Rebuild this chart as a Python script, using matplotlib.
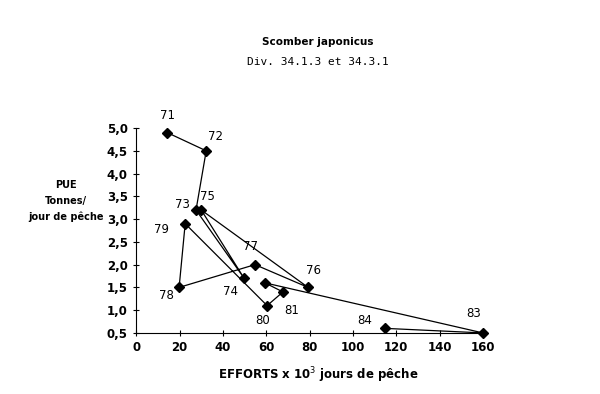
import matplotlib.pyplot as plt
from matplotlib.ticker import FuncFormatter

years = ["71", "72", "73", "74", "75", "76", "77", "78", "79", "80", "81", "82", "83", "84"]
effort = [14.3, 32.3, 27.6, 49.8, 30.0, 79.3, 54.8, 19.8, 22.6, 60.4, 67.7, 59.4, 160.0, 115.0]
pue = [4.9, 4.5, 3.2, 1.7, 3.2, 1.5, 2.0, 1.5, 2.9, 1.1, 1.4, 1.6, 0.5, 0.6]

# label offsets in points (dx, dy)
label_pos = {
    "71": (0, 12), "72": (6.5, 10.5), "73": (-10, 4), "75": (4.5, 10), "74": (-10, -9.5),
    "76": (4, 12), "77": (-3, 13), "78": (-9, -6), "79": (-17, -4), "80": (-3, -11),
    "81": (6.5, -13), "83": (-6.5, 14), "84": (-15, 6),
}

fig = plt.figure(figsize=(6, 3.94), dpi=100)
ax = fig.add_axes([0.227, 0.155, 0.578, 0.52])

ax.plot(effort, pue, color="black", lw=0.9, marker="D", ms=5, clip_on=False, zorder=3)

for yr, x, y in zip(years, effort, pue):
    if yr in label_pos:
        dx, dy = label_pos[yr]
        ax.annotate(yr, (x, y), xytext=(dx, dy), textcoords="offset points",
                    ha="center", va="center", fontsize=8.5)

ax.set_xlim(0, 160)
ax.set_ylim(0.5, 5.0)
ax.set_xticks(range(0, 161, 20))
ax.set_yticks([0.5 + 0.5 * i for i in range(10)])
ax.yaxis.set_major_formatter(FuncFormatter(lambda v, p: f"{v:.1f}".replace(".", ",")))
ax.tick_params(direction="inout", length=5, width=0.8, labelsize=8.5)
for t in ax.get_xticklabels() + ax.get_yticklabels():
    t.set_fontweight("bold")
for s in ["top", "right"]:
    ax.spines[s].set_visible(False)

fig.text(0.53, 0.885, "Scomber japonicus", ha="center", fontsize=7.5, fontweight="bold")
fig.text(0.53, 0.835, "Div. 34.1.3 et 34.3.1", ha="center", fontsize=8, family="DejaVu Sans Mono")

fig.text(0.11, 0.49, "PUE\nTonnes/\njour de pêche", ha="center", va="center",
         fontsize=7, fontweight="bold", linespacing=1.7)
fig.text(0.53, 0.048, r"EFFORTS x 10$^3$ jours de pêche", ha="center", va="center",
         fontsize=8.5, fontweight="bold")

fig.savefig("out.png", dpi=100)
